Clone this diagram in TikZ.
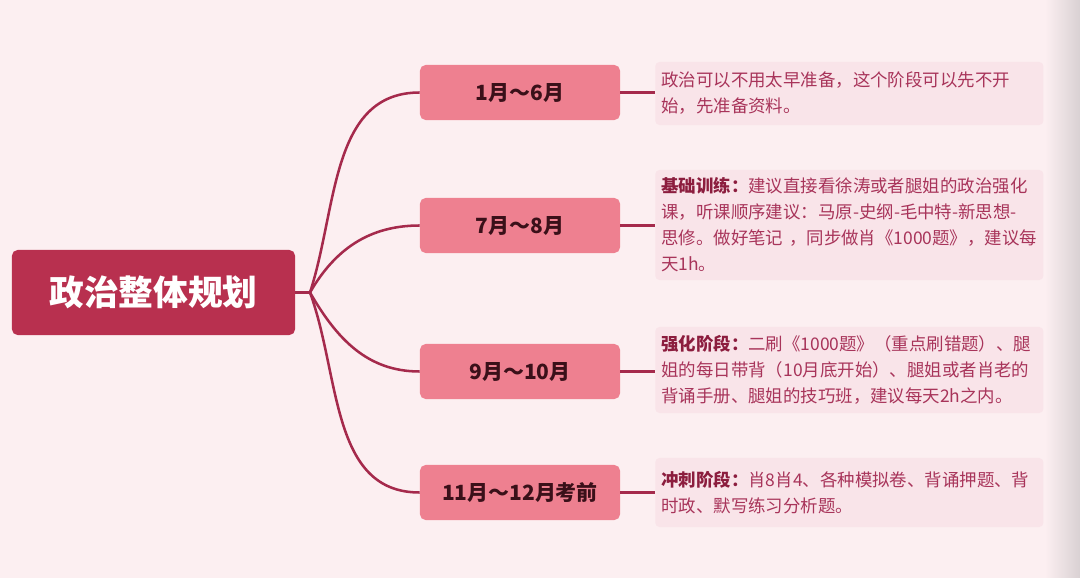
\documentclass[tikz,border=0pt]{standalone}
\usepackage{fontspec}
\setmainfont{Noto Sans CJK SC}
\usetikzlibrary{arrows, arrows.meta}
\definecolor{bgpink}{HTML}{FCEFF1}
\definecolor{rootred}{HTML}{B8304F}
\definecolor{monthpink}{HTML}{EE8090}
\definecolor{notepink}{HTML}{F9E4E9}
\definecolor{edgered}{HTML}{A52A4C}
\definecolor{notetext}{HTML}{A8345A}
\definecolor{labeltext}{HTML}{8C1D3E}
\definecolor{monthtext}{HTML}{3A1019}
\definecolor{shadegray}{HTML}{D9D1D3}
\tikzset{rootbox/.style = {shape = rectangle, rounded corners = 4pt, fill = rootred, text = white, font = \fontsize{24.7}{30}\selectfont\bfseries, minimum width = 7.075cm, minimum height = 2.125cm}}
\tikzset{monthbox/.style = {shape = rectangle, rounded corners = 4pt, fill = monthpink, text = monthtext, font = \fontsize{14.9}{18}\selectfont\bfseries, minimum width = 5cm, minimum height = 1.375cm}}
\tikzset{notebox/.style = {shape = rectangle, rounded corners = 3pt, fill = notepink, text = notetext, font = \fontsize{12.4}{18.5}\selectfont, align = left, text width = 9.4cm, inner xsep = 0.15cm, inner ysep = 0.15cm, anchor = west}}
\tikzset{edge/.style = {-, draw = edgered, line width = 1.8pt}}
\newcommand{\notelabel}[1]{{\bfseries\color{labeltext}#1}}

\begin{document}
\begin{tikzpicture}[x = 0.025cm, y = -0.025cm]
				\fill[bgpink] (0, 0) rectangle (1080, 578);
				\shade[left color = bgpink, right color = shadegray] (1045, 0) rectangle (1080, 578);
				\useasboundingbox (0, 0) rectangle (1080, 578);

				\node[rootbox] (root) at (153.5, 292.5) {政治整体规划};
				\coordinate (hub) at (310, 292.5);

				\node[monthbox] (m1) at (520, 92.5) {1月～6月};
				\node[monthbox] (m2) at (520, 225.5) {7月～8月};
				\node[monthbox] (m3) at (520, 371.5) {9月～10月};
				\node[monthbox] (m4) at (520, 492.5) {11月～12月考前};

				\node[notebox, minimum height = 1.575cm] (t1) at (655, 93.5) {政治可以不用太早准备，这个阶段可以先不开\\始，先准备资料。};
				\node[notebox, minimum height = 2.75cm] (t2) at (655, 225) {\notelabel{基础训练：}建议直接看徐涛或者腿姐的政治强化\\课，听课顺序建议：马原-史纲-毛中特-新思想-\\思修。做好笔记~，同步做肖《1000题》，建议每\\天1h。};
				\node[notebox, minimum height = 2.15cm] (t3) at (655, 370) {\notelabel{强化阶段：}二刷《1000题》（重点刷错题）、腿\\姐的每日带背（10月底开始）、腿姐或者肖老的\\背诵手册、腿姐的技巧班，建议每天2h之内。};
				\node[notebox, minimum height = 1.725cm] (t4) at (655, 492.5) {\notelabel{冲刺阶段：}肖8肖4、各种模拟卷、背诵押题、背\\时政、默写练习分析题。};

				\draw[edge] (root.east) -- (hub);
				\draw[edge] (hub) to[out = 72, in = 180] (m1.west);
				\draw[edge] (hub) to[out = 60, in = 180] (m2.west);
				\draw[edge] (hub) to[out = -60, in = 180] (m3.west);
				\draw[edge] (hub) to[out = -70, in = 180] (m4.west);

				\draw[edge] (m1.east) -- (m1.east -| t1.west);
				\draw[edge] (m2.east) -- (m2.east -| t2.west);
				\draw[edge] (m3.east) -- (m3.east -| t3.west);
				\draw[edge] (m4.east) -- (m4.east -| t4.west);
			\end{tikzpicture}
\end{document}
